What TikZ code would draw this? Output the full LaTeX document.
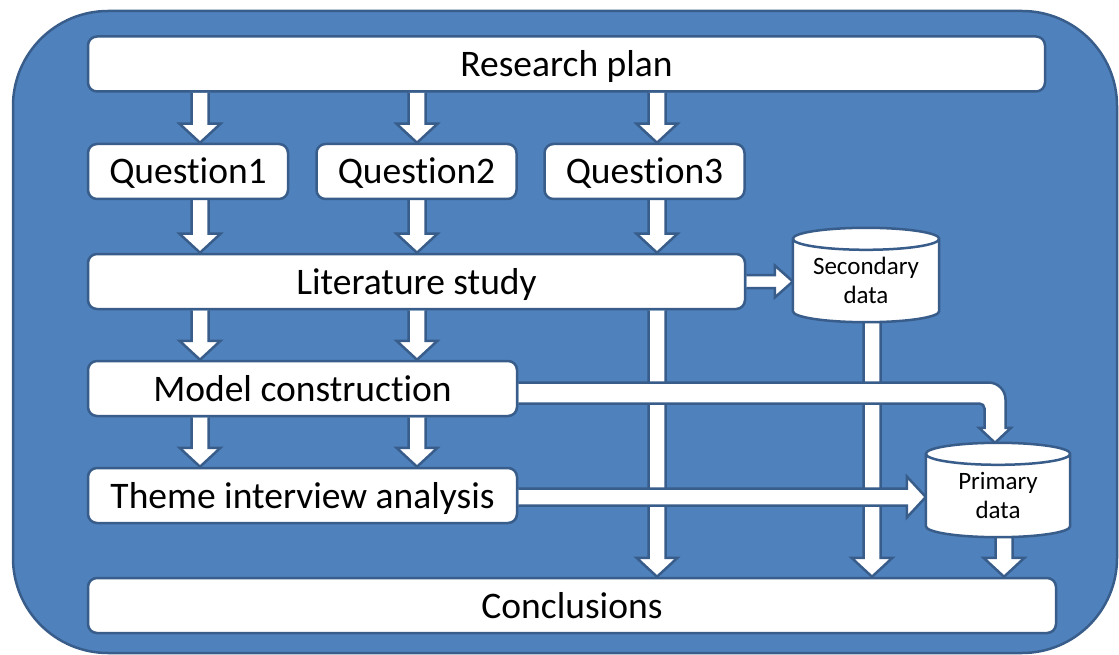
\documentclass[tikz,border=0pt]{standalone}
\usepackage{fontspec}
\setmainfont[Ligatures=NoCommon]{Carlito}
\usetikzlibrary{calc}

\definecolor{panelblue}{HTML}{4F81BD}
\definecolor{edgeblue}{HTML}{385D8A}

\pgfdeclarelayer{back}
\pgfdeclarelayer{arrows}
\pgfdeclarelayer{shapes}
\pgfsetlayers{back,arrows,shapes,main}

% block arrow geometry (outline centre lines)
\newcommand\arSW{8.5pt}   % half shaft width
\newcommand\arHW{20.5pt}  % half head width
\newcommand\arHL{19pt}    % head length

% downward block arrow: x taken from the start point
\newcommand\blkdown[3][]{\begingroup#1%
  \draw[blockarrow] let \p1=(#2), \p2=(#3) in
    (\x1-\arSW,\y1) -- (\x1-\arSW,\y2+\arHL) -- (\x1-\arHW,\y2+\arHL) -- (\x1,\y2)
    -- (\x1+\arHW,\y2+\arHL) -- (\x1+\arSW,\y2+\arHL) -- (\x1+\arSW,\y1);\endgroup}

% rightward block arrow: y taken from the start point
\newcommand\blkright[3][]{\begingroup#1%
  \draw[blockarrow] let \p1=(#2), \p2=(#3) in
    (\x1,\y1+\arSW) -- (\x2-\arHL,\y1+\arSW) -- (\x2-\arHL,\y1+\arHW) -- (\x2,\y1)
    -- (\x2-\arHL,\y1-\arHW) -- (\x2-\arHL,\y1-\arSW) -- (\x1,\y1-\arSW);\endgroup}

% database drum drawn round a named node
\newcommand\drumshape[1]{%
  \path[drumline] let \p1=(#1.north west), \p2=(#1.south east), \n1={(\x2-\x1)/2} in
    (\x1,\y1-11pt) -- (\x1,\y2+11pt)
      arc[start angle=180,end angle=360,x radius=\n1,y radius=11pt]
      -- (\x2,\y1-11pt)
      arc[start angle=0,end angle=180,x radius=\n1,y radius=11pt] -- cycle
    (\x1,\y1-11pt) arc[start angle=180,end angle=360,x radius=\n1,y radius=11pt];}

\tikzset{
  box/.style={draw=edgeblue, line width=2.5pt, fill=white, rounded corners=9pt,
    inner sep=0pt, minimum height=55pt, text height=33pt, text depth=8pt,
    font=\fontsize{37.5}{44}\selectfont},
  drum/.style={inner sep=0pt, minimum width=146pt, minimum height=94pt,
    font=\fontsize{25}{29}\selectfont},
  drumline/.style={draw=edgeblue, line width=2.5pt, fill=white},
  blockarrow/.style={draw=edgeblue, fill=white, line width=2.5pt, line join=miter},
}

\begin{document}
\begin{tikzpicture}[x=1pt,y=-1pt]
\useasboundingbox (0,0) rectangle (1119,655);

% panel
\begin{pgfonlayer}{back}
  \draw[draw=edgeblue, fill=panelblue, line width=2.5pt, rounded corners=95pt]
    (13,11) rectangle (1117,653);
\end{pgfonlayer}

% arrow columns
\coordinate (c1) at (200,0);
\coordinate (c2) at (417,0);
\coordinate (c3) at (657,0);
\coordinate (c4) at (872,0);
\coordinate (c5) at (995,0);
\coordinate (c6) at (1004,0);

% boxes
\node[box, minimum width=957pt] (rp) at (566.5,64)    {Research plan};
\node[box, minimum width=200pt] (q1) at (188,171.5)   {Question1};
\node[box, minimum width=200pt] (q2) at (416.5,171.5) {Question2};
\node[box, minimum width=200pt] (q3) at (644.5,171.5) {Question3};
\node[box, minimum width=657pt] (ls) at (416.5,281.5) {Literature study};
\node[box, minimum width=429pt] (mc) at (302.5,388.5) {Model construction};
\node[box, minimum width=429pt] (ta) at (302.5,495.5) {Theme interview analysis};
\node[box, minimum width=968pt] (cc) at (572,605.5)   {Conclusions};

% data stores
\node[drum] (sd) at (866,275)
  {\raisebox{-8pt}[\height][\depth]{\begin{tabular}{@{}c@{}}Secondary\\data\end{tabular}}};
\node[drum, minimum width=144pt] (pd) at (998,490)
  {\raisebox{-8pt}[\height][\depth]{\begin{tabular}{@{}c@{}}Primary\\data\end{tabular}}};

\begin{pgfonlayer}{shapes}
  \drumshape{sd}
  \drumshape{pd}
\end{pgfonlayer}

\begin{pgfonlayer}{arrows}
  % plan to questions
  \blkdown{rp.south -| c1}{q1.north -| c1}
  \blkdown{rp.south -| c2}{q2.north -| c2}
  \blkdown{rp.south -| c3}{q3.north -| c3}
  % questions to literature study
  \blkdown{q1.south -| c1}{ls.north -| c1}
  \blkdown{q2.south -| c2}{ls.north -| c2}
  \blkdown{q3.south -| c3}{ls.north -| c3}
  % literature study to model construction
  \blkdown{ls.south -| c1}{mc.north -| c1}
  \blkdown{ls.south -| c2}{mc.north -| c2}
  % model construction to theme interview analysis
  \blkdown{mc.south -| c1}{ta.north -| c1}
  \blkdown{mc.south -| c2}{ta.north -| c2}
  % long runs into the conclusions
  \blkdown{ls.south -| c3}{cc.north -| c3}
  \blkdown{sd.south -| c4}{cc.north -| c4}
  \blkdown{pd.south -| c6}{cc.north -| c6}

  % horizontal arrows lie over the vertical runs
  \blkright[\renewcommand\arSW{6.5pt}\renewcommand\arHW{16pt}\renewcommand\arHL{18pt}]{ls.east}{sd.west}
  \blkright{[yshift=-1.5pt]ta.east}{pd.west}

  % model construction bends down into the primary data
  \draw[blockarrow] let \p1=([yshift=-4.5pt]mc.east), \p2=(pd.north -| c5) in
    (\x1,\y1+10.5pt) -- (\x2-6.5pt,\y1+10.5pt)
      arc[start angle=90,end angle=0,radius=17pt]
      -- (\x2+10.5pt,\y2+15pt) -- (\x2+16pt,\y2+15pt) -- (\x2,\y2)
      -- (\x2-16pt,\y2+15pt) -- (\x2-10.5pt,\y2+15pt)
      -- (\x2-10.5pt,\y1-15.5pt)
      arc[start angle=0,end angle=90,radius=5pt]
      -- (\x1,\y1-10.5pt);
\end{pgfonlayer}
\end{tikzpicture}
\end{document}
